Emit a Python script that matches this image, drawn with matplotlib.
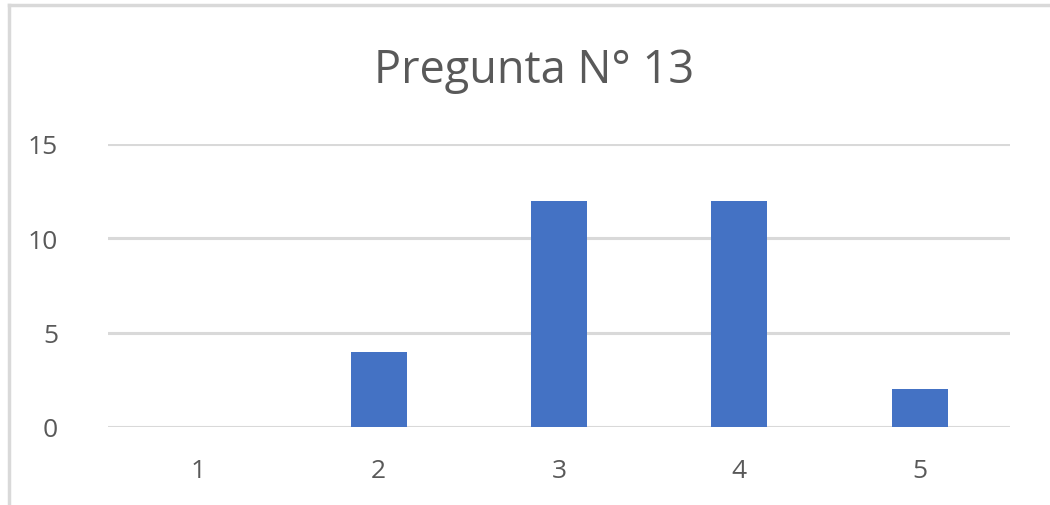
import matplotlib
matplotlib.use("Agg")
import matplotlib.pyplot as plt
from matplotlib.lines import Line2D

categories = ["1", "2", "3", "4", "5"]
values = [0, 4, 12, 12, 2]
y_ticks = [0, 5, 10, 15]
title = "Pregunta N° 13"

BAR = "#4472C4"
TEXT = "#595959"
GRID = "#D9D9D9"

plt.rcParams["font.family"] = ["Open Sans", "DejaVu Sans"]

fig = plt.figure(figsize=(10.5, 5.06), dpi=100)
ax = fig.add_axes([108 / 1050, 1 - 428 / 506, 902 / 1050, (428 - 145) / 506])

x = list(range(1, len(categories) + 1))
ax.bar(x, values, width=0.31, color=BAR, zorder=3)

ax.set_xlim(0.5, len(categories) + 0.5)
ax.set_ylim(0, 15)
ax.set_xticks(x)
ax.set_xticklabels(categories)
ax.set_yticks(y_ticks)
ax.grid(axis="y", color=GRID, linewidth=2.2, zorder=0)
ax.tick_params(axis="both", length=0, labelsize=19, labelcolor=TEXT)
ax.tick_params(axis="y", pad=36)
ax.tick_params(axis="x", pad=22)
for s in ax.spines.values():
    s.set_visible(False)

fig.text(534 / 1050, 1 - 71 / 506, title, ha="center", va="center",
         fontsize=32.5, color=TEXT)

# chart frame (only top and left edges are visible)
fig.add_artist(Line2D([9 / 1050, 9 / 1050], [0, 1 - 6 / 506],
                      color=GRID, linewidth=2.5, transform=fig.transFigure))
fig.add_artist(Line2D([9 / 1050, 1], [1 - 6 / 506, 1 - 6 / 506],
                      color=GRID, linewidth=2.5, transform=fig.transFigure))

fig.savefig("out.png", dpi=100, facecolor="white")
